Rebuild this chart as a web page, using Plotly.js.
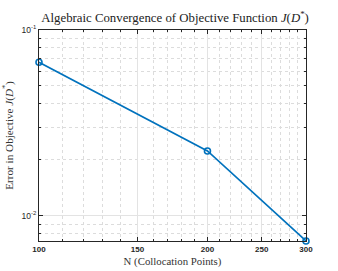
<!DOCTYPE html>
<html><head><meta charset="utf-8">
<script src="https://cdn.plot.ly/plotly-3.0.1.min.js"></script>
<style>html,body{margin:0;padding:0;background:#fff}</style>
</head><body>
<div id="chart" style="width:338px;height:271px"></div>
<script>
const nPoints = [100, 200, 300];
const errorJ = [0.067, 0.0223, 0.0073];
const xTicks = [100, 150, 200, 250, 300];
const xMinor = [110,120,130,140,160,170,180,190,210,220,230,240,260,270,280,290];
const yTicks = [0.01, 0.1];
const yTickText = ['10<sup>-2</sup>', '10<sup>-1</sup>'];
const yMinor = [0.008,0.009,0.02,0.03,0.04,0.05,0.06,0.07,0.08,0.09];

const trace = {
  x: nPoints, y: errorJ, type: 'scatter', mode: 'lines+markers',
  line: {color: '#0072BD', width: 1.6},
  marker: {symbol: 'circle-open', size: 6, color: '#0072BD', line: {width: 1.6, color: '#0072BD'}},
  cliponaxis: false, showlegend: false
};
const axisCommon = {
  showline: true, linecolor: '#262626', linewidth: 1, mirror: 'ticks',
  ticks: 'inside', ticklen: 4, tickcolor: '#262626', tickwidth: 1,
  showgrid: true, gridcolor: '#e3e3e3', gridwidth: 1, zeroline: false,
  tickfont: {family: 'Liberation Sans, Arial, sans-serif', size: 8.5, color: '#262626'}
};
const layout = {
  width: 338, height: 271,
  margin: {l: 39, r: 32, t: 30, b: 30},
  paper_bgcolor: '#fff', plot_bgcolor: '#fff',
  title: {text: 'Algebraic Convergence of Objective Function <i>J</i>(<i>D</i><sup>*</sup>)',
    font: {family: 'Liberation Serif, DejaVu Serif, serif', size: 12.8, color: '#222'},
    x: 0.518, xanchor: 'center', y: 0.935, yanchor: 'middle'},
  xaxis: Object.assign({}, axisCommon, {
    type: 'log', range: [2, Math.log10(300)],
    tickmode: 'array', tickvals: xTicks, ticktext: xTicks.map(String),
    tickfont: {family: 'Liberation Sans, Arial, sans-serif', size: 8, color: '#262626', weight: 'bold'},
    minor: {tickmode: 'array', tickvals: xMinor, ticks: 'inside', ticklen: 2, tickcolor: '#262626',
      showgrid: true, gridcolor: '#dcdcdc', griddash: 'dot', gridwidth: 1},
    title: {text: 'N (Collocation Points)', standoff: 4,
      font: {family: 'Liberation Serif, DejaVu Serif, serif', size: 10.8, color: '#333'}}
  }),
  yaxis: Object.assign({}, axisCommon, {
    type: 'log', range: [-2.137, -1],
    tickmode: 'array', tickvals: yTicks, ticktext: yTickText,
    minor: {tickmode: 'array', tickvals: yMinor, ticks: 'inside', ticklen: 2, tickcolor: '#262626',
      showgrid: true, gridcolor: '#dcdcdc', griddash: 'dot', gridwidth: 1},
    title: {text: 'Error in Objective <i>J</i>(<i>D</i><sup>*</sup>)', standoff: 5,
      font: {family: 'Liberation Serif, DejaVu Serif, serif', size: 11.2, color: '#333'}}
  })
};
Plotly.newPlot('chart', [trace], layout, {displayModeBar: false, staticPlot: true});
</script>
</body></html>
